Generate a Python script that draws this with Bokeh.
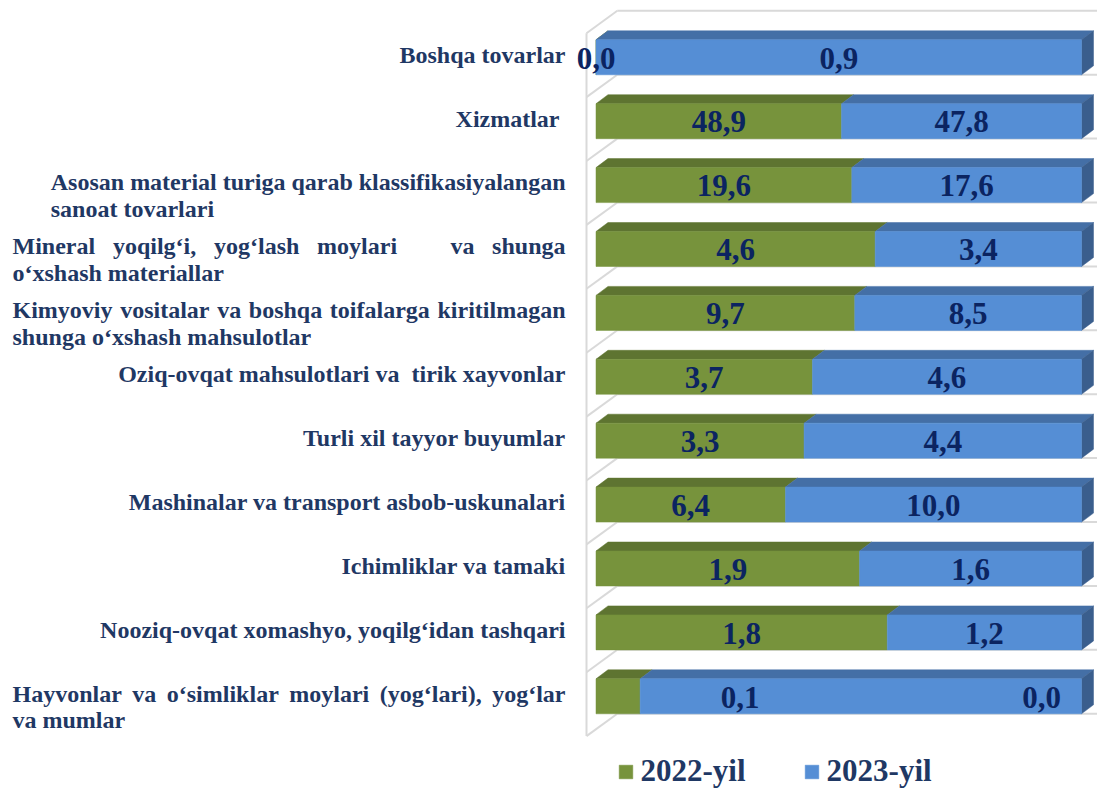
from bokeh.plotting import figure
from bokeh.models import ColumnDataSource, Range1d, Legend, LegendItem
from bokeh.core.properties import value
from bokeh.embed import file_html
from bokeh.resources import INLINE

# ---------------- data (top to bottom) ----------------
categories = [
    "Boshqa tovarlar",
    "Xizmatlar",
    "Asosan material turiga qarab klassifikasiyalangan sanoat tovarlari",
    "Mineral yoqilg‘i, yog‘lash moylari va shunga o‘xshash materiallar",
    "Kimyoviy vositalar va boshqa toifalarga kiritilmagan shunga o‘xshash mahsulotlar",
    "Oziq-ovqat mahsulotlari va  tirik xayvonlar",
    "Turli xil tayyor buyumlar",
    "Mashinalar va transport asbob-uskunalari",
    "Ichimliklar va tamaki",
    "Nooziq-ovqat xomashyo, yoqilg‘idan tashqari",
    "Hayvonlar va o‘simliklar moylari (yog‘lari), yog‘lar va mumlar",
]
label_lines = [
    ["Boshqa tovarlar"],
    ["Xizmatlar\u00a0"],
    ["Asosan material turiga qarab klassifikasiyalangan", "sanoat tovarlari"],
    ["Mineral yoqilg‘i, yog‘lash moylari   va shunga", "o‘xshash materiallar"],
    ["Kimyoviy vositalar va boshqa toifalarga kiritilmagan", "shunga o‘xshash mahsulotlar"],
    ["Oziq-ovqat mahsulotlari va\u00a0 tirik xayvonlar"],
    ["Turli xil tayyor buyumlar"],
    ["Mashinalar va transport asbob-uskunalari"],
    ["Ichimliklar va tamaki"],
    ["Nooziq-ovqat xomashyo, yoqilg‘idan tashqari"],
    ["Hayvonlar va o‘simliklar moylari (yog‘lari), yog‘lar", "va mumlar"],
]
label_mode = ["right", "right", "block", "justify", "justify", "right", "right",
              "right", "right", "right", "justify"]
values_2022 = [0.0, 48.9, 19.6, 4.6, 9.7, 3.7, 3.3, 6.4, 1.9, 1.8, 0.01]
values_2023 = [0.9, 47.8, 17.6, 3.4, 8.5, 4.6, 4.4, 10.0, 1.6, 1.2, 0.1]
series_names = ["2022-yil", "2023-yil"]

# ---------------- geometry ----------------
W, H = 1097, 788
X0_PX, X_SCALE = 595.5, 485.5      # share 0 -> px, px per unit share
Y0_PX, ROW = 56.8, 63.9            # first bar centre px, px per category

def px2x(px):
    return (px - X0_PX) / X_SCALE

def dpx_y(d):
    return d / ROW

x_start, x_end = px2x(0), px2x(W)
y_top, y_bottom = -Y0_PX / ROW, (H - Y0_PX) / ROW

p = figure(width=W, height=H, output_backend="svg", toolbar_location=None,
           x_range=Range1d(x_start, x_end), y_range=Range1d(y_bottom, y_top),
           x_axis_location=None, y_axis_location=None, min_border=0,
           background_fill_color="white", border_fill_color="white")
p.grid.visible = False
p.outline_line_color = None

G_FRONT, G_TOP = "#77933C", "#5E7431"
B_FRONT, B_TOP, B_SIDE = "#558ED5", "#446FA6", "#3A5E8D"
GRID = "#D9D9D9"
NAVY_LBL = "#1F3864"
NAVY_DATA = "#0B2461"

n = len(categories)
idx = list(range(n))
half = dpx_y(17.5)
ddx = 12 / X_SCALE
ddy = -dpx_y(9)

# ---------------- walls / gridlines ----------------
wall_front_x = px2x(586)
wall_back_x = px2x(616.8)
sep0 = dpx_y(-24.1)                # first separator (front) relative to row 0
back_shift = -dpx_y(22.4)
seps = [sep0 + k for k in range(n + 1)]
p.segment(x0=[wall_back_x] * (n + 1), x1=[x_end] * (n + 1),
          y0=[s + back_shift for s in seps], y1=[s + back_shift for s in seps],
          line_color=GRID, line_width=2)
p.segment(x0=[wall_front_x] * (n + 1), x1=[wall_back_x] * (n + 1),
          y0=seps, y1=[s + back_shift for s in seps], line_color=GRID, line_width=2)
p.segment(x0=[wall_front_x], x1=[wall_front_x], y0=[seps[0]], y1=[seps[-1]],
          line_color=GRID, line_width=2)

# ---------------- bars ----------------
share = [a / (a + b) for a, b in zip(values_2022, values_2023)]
front_top = [i - half for i in idx]
front_bot = [i + half for i in idx]

src = ColumnDataSource(dict(
    y=idx, share=share, one=[1.0] * n, zero=[0.0] * n,
    top=front_top, bot=front_bot,
    g_xs=[[0, s, s + ddx, ddx] for s in share],
    b_xs=[[s, 1, 1 + ddx, s + ddx] for s in share],
    t_ys=[[t, t, t + ddy, t + ddy] for t in front_top],
    side_xs=[[1, 1 + ddx, 1 + ddx, 1] for _ in idx],
    side_ys=[[t, t + ddy, b + ddy, b] for t, b in zip(front_top, front_bot)],
))
p.patches(xs="g_xs", ys="t_ys", source=src, fill_color=G_TOP, line_color=G_TOP, line_width=0.5)
p.patches(xs="b_xs", ys="t_ys", source=src, fill_color=B_TOP, line_color=B_TOP, line_width=0.5)
p.patches(xs="side_xs", ys="side_ys", source=src, fill_color=B_SIDE, line_color=B_SIDE, line_width=0.5)
g_front = p.quad(left="zero", right="share", top="top", bottom="bot", source=src,
                 fill_color=G_FRONT, line_color=G_FRONT, line_width=0.5)
b_front = p.quad(left="share", right="one", top="top", bottom="bot", source=src,
                 fill_color=B_FRONT, line_color=B_FRONT, line_width=0.5)

# text baseline correction (renderer places alphabetic baseline ~0.38em lower)
def base_fix(fs):
    return -0.38 * fs

# ---------------- data labels ----------------
def fmt(v):
    return f"{v:.1f}".replace(".", ",")

DATA_FS = 31
label_x_override = {10: (0.918, 0.297)}   # manually moved labels in the original
lx, ly, lt = [], [], []
for i in idx:
    gx, bx = share[i] / 2, (share[i] + 1) / 2
    if i in label_x_override:
        gx, bx = label_x_override[i]
    yy = i + dpx_y(12.5 + base_fix(DATA_FS))
    lx += [gx, bx]
    ly += [yy, yy]
    lt += [fmt(values_2022[i]), fmt(values_2023[i])]
p.text(x=lx, y=ly, text=lt, text_align="center", text_baseline="alphabetic",
       text_font=value("Liberation Serif"), text_font_style="bold",
       text_font_size=f"{DATA_FS}px", text_color=NAVY_DATA)

# ---------------- category labels (justified like the original) ----------------
CW = {' ': 250, '\u00a0': 250, ',': 250, '.': 250, '-': 333, '(': 333, ')': 333, '‘': 333,
      'a': 500, 'b': 556, 'c': 444, 'd': 556, 'e': 444, 'f': 333, 'g': 500, 'h': 556,
      'i': 278, 'j': 333, 'k': 556, 'l': 278, 'm': 833, 'n': 556, 'o': 500, 'p': 556,
      'q': 556, 'r': 444, 's': 389, 't': 333, 'u': 556, 'v': 500, 'w': 722, 'x': 500,
      'y': 500, 'z': 444, 'A': 722, 'B': 667, 'H': 778, 'I': 389, 'K': 778, 'M': 944,
      'N': 722, 'O': 778, 'T': 667, 'X': 722}
FS = 24

def tw(s):
    return sum(CW.get(c, 500) for c in s) * FS / 1000.0

RIGHT_PX = 565.0
LEFT_PX = 12.0
LINE_GAP = 26.5

wx, wy, wt, wa = [], [], [], []
for i in idx:
    lines = label_lines[i]
    mode = label_mode[i]
    base = i + dpx_y(6.5 + base_fix(FS))
    if mode == "right":
        wx.append(px2x(RIGHT_PX)); wy.append(base); wt.append(lines[0]); wa.append("right")
        continue
    if mode == "block":
        left = RIGHT_PX - tw(lines[0])
        wx.append(px2x(RIGHT_PX)); wy.append(base); wt.append(lines[0]); wa.append("right")
        for k, ln in enumerate(lines[1:], start=1):
            wx.append(px2x(left)); wy.append(base + dpx_y(LINE_GAP * k)); wt.append(ln); wa.append("left")
        continue
    # justify first line over LEFT_PX..RIGHT_PX
    toks = lines[0].split(" ")
    words, weights = [], []
    gap = 0
    for tk in toks:
        if tk == "":
            gap += 1
            continue
        if words:
            weights.append(gap + 1)
        words.append(tk)
        gap = 0
    widths = [tw(w) for w in words]
    unit = (RIGHT_PX - LEFT_PX - sum(widths)) / sum(weights)
    x = LEFT_PX
    for k, w in enumerate(words):
        if k == len(words) - 1:
            wx.append(px2x(RIGHT_PX)); wa.append("right")
        else:
            wx.append(px2x(x)); wa.append("left")
            x += widths[k] + weights[k] * unit
        wy.append(base); wt.append(w)
    for k, ln in enumerate(lines[1:], start=1):
        wx.append(px2x(LEFT_PX)); wy.append(base + dpx_y(LINE_GAP * k)); wt.append(ln); wa.append("left")

p.text(x=wx, y=wy, text=wt, text_align=wa, text_baseline="alphabetic",
       text_font=value("Liberation Serif"), text_font_style="bold",
       text_font_size=f"{FS}px", text_color=NAVY_LBL)

# ---------------- legend ----------------
legend = Legend(items=[LegendItem(label=series_names[0], renderers=[g_front]),
                       LegendItem(label=series_names[1], renderers=[b_front])],
                orientation="horizontal", location=(616.5, -1),
                label_text_font="Liberation Serif", label_text_font_style="bold",
                label_text_font_size="31px", label_text_color=NAVY_LBL,
                glyph_width=17, glyph_height=17, label_standoff=7, spacing=57,
                padding=0, margin=0, border_line_color=None, background_fill_alpha=0)
p.add_layout(legend)

open("out.html", "w").write(file_html(p, INLINE))
